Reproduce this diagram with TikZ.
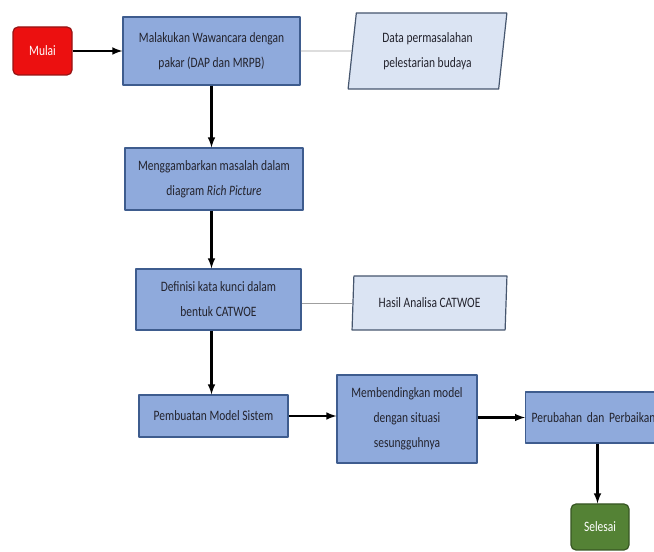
\documentclass[tikz,border=0pt]{standalone}
\usepackage{fontspec}
\setmainfont{Carlito}[FakeStretch=0.8]
\usetikzlibrary{shapes.geometric}
\definecolor{kotakisi}{RGB}{143,170,220}
\definecolor{kotakgaris}{RGB}{62,92,142}
\definecolor{berkasisi}{RGB}{219,228,243}
\definecolor{berkasgaris}{RGB}{70,86,110}
\definecolor{mulaiisi}{RGB}{236,16,16}
\definecolor{mulaigaris}{RGB}{150,20,20}
\definecolor{selesaiisi}{RGB}{84,130,53}
\definecolor{selesaigaris}{RGB}{55,86,35}
\definecolor{teks}{RGB}{35,35,45}
\begin{document}
\begin{tikzpicture}[>=latex,line join=bevel,
  proses/.style={draw=kotakgaris,line width=1.2bp,fill=kotakisi,text=teks,align=center,
    font=\fontsize{14.4}{25}\selectfont,inner sep=0pt},
  berkas/.style={trapezium,trapezium stretches=true,draw=berkasgaris,line width=1.2bp,
    fill=berkasisi,text=teks,align=center,font=\fontsize{14.4}{25}\selectfont,inner sep=0pt},
  terminal/.style={rounded corners=5bp,line width=1.2bp,text=white,
    font=\fontsize{14.4}{25}\selectfont,inner sep=0pt},
  alur/.style={->,line width=2.4bp,black},
  hubung/.style={draw=gray!75,line width=0.9bp}]
\useasboundingbox (0bp,0bp) rectangle (654bp,552bp);
\clip (0bp,0bp) rectangle (654bp,552bp);
%%
\node (mulai) at (42.5bp,501bp) [terminal,fill=mulaiisi,draw=mulaigaris,minimum width=59bp,minimum height=48bp] {Mulai};
  \node (wawancara) at (211.5bp,501bp) [proses,minimum width=177bp,minimum height=68bp] {Malakukan Wawancara dengan\\pakar (DAP dan MRPB)};
  \node (data) at (427.5bp,501bp) [berkas,trapezium left angle=82,trapezium right angle=98,minimum width=159bp,minimum height=76bp] {Data permasalahan\\pelestarian budaya};
  \node (rich) at (214bp,373bp) [proses,minimum width=178bp,minimum height=62bp] {Menggambarkan masalah dalam\\diagram \textit{Rich Picture}};
  \node (catwoe) at (218.5bp,252.5bp) [proses,minimum width=165bp,minimum height=61bp] {Definisi kata kunci dalam\\bentuk CATWOE};
  \node (hasil) at (429.5bp,249bp) [berkas,trapezium left angle=83,trapezium right angle=97,minimum width=155bp,minimum height=54bp] {Hasil Analisa CATWOE};
  \node (model) at (213.5bp,136bp) [proses,minimum width=149bp,minimum height=42bp] {Pembuatan Model Sistem};
  \node (banding) at (407bp,133bp) [proses,minimum width=140bp,minimum height=88bp] {Membendingkan model\\dengan situasi\\sesungguhnya};
  \node (ubah) at (525bp,134.5bp) [proses,anchor=west,minimum height=51bp,align=left,inner xsep=6bp,text width=133bp] {\mbox{Perubahan dan Perbaikan}};
  \node (selesai) at (600bp,25bp) [terminal,fill=selesaiisi,draw=selesaigaris,minimum width=58bp,minimum height=46bp] {Selesai};
  \draw [alur] (mulai) -- (wawancara);
  \draw [hubung] (wawancara) -- (data);
  \draw [alur] (wawancara.south) -- (wawancara.south |- rich.north);
  \draw [alur] (rich.south -| wawancara.south) -- (wawancara.south |- catwoe.north);
  \draw [hubung] (hasil.west -| catwoe.east) -- (hasil.west);
  \draw [alur] (catwoe.south -| wawancara.south) -- (wawancara.south |- model.north);
  \draw [alur] (model.east) -- (model.east -| banding.west);
  \draw [alur] (banding.east |- ubah) -- (ubah.west);
  \draw [alur] (597.5bp,0 |- ubah.south) -- (597.5bp,0 |- selesai.north);
%
\end{tikzpicture}
\end{document}
